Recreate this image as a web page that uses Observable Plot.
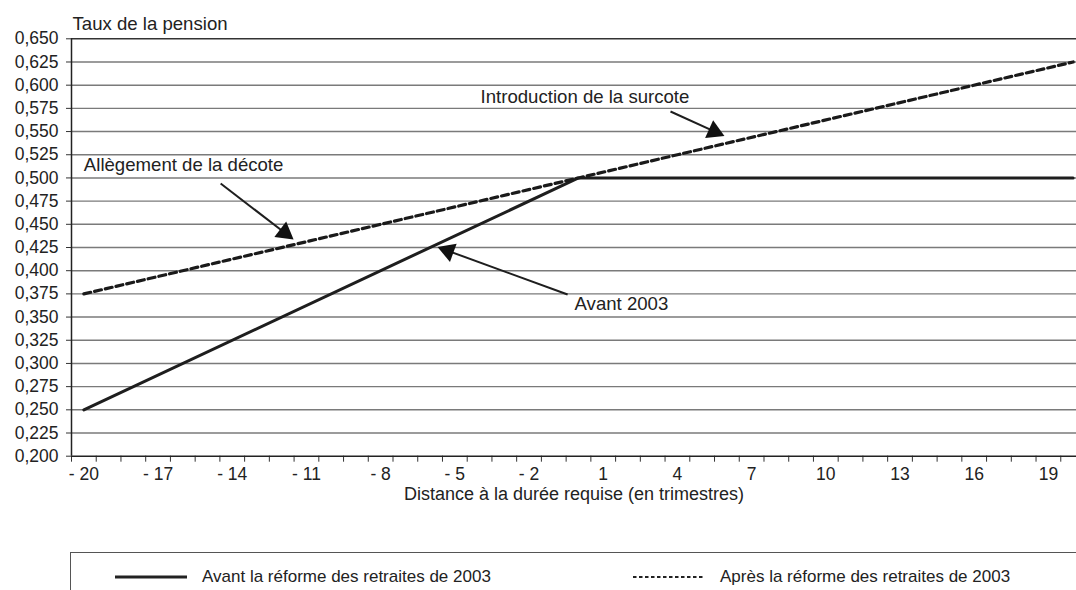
<!DOCTYPE html>
<html><head><meta charset="utf-8">
<script src="https://cdn.jsdelivr.net/npm/d3@7"></script>
<script src="https://cdn.jsdelivr.net/npm/@observablehq/plot@0.6"></script>
<style>
html,body{margin:0;padding:0;background:#fff;}
body{width:1076px;height:590px;overflow:hidden;font-family:"Liberation Sans",Arial,Helvetica,sans-serif;color:#222;}
#chart svg{display:block;}
#legend{position:relative;margin-top:12px;margin-left:70px;height:60px;border-top:1.5px solid #555;border-left:1.5px solid #555;}
.item{position:absolute;top:14px;height:20px;display:flex;align-items:center;font-size:17px;white-space:nowrap;}
.item svg{margin-right:15px;}
</style>
</head><body>
<div id="chart"></div>
<div id="legend">
  <div class="item" style="left:44px"><svg width="72" height="6"><line x1="0" y1="3" x2="72" y2="3" stroke="#222" stroke-width="3"/></svg><span id="lg1"></span></div>
  <div class="item" style="left:562px"><svg width="72" height="6"><line x1="0" y1="3" x2="72" y2="3" stroke="#222" stroke-width="2.2" stroke-dasharray="3.5,2.5"/></svg><span id="lg2"></span></div>
</div>
<script>
// ---- data ----
const quartersBefore = [-20, 0, 20];
const ratesBefore = [0.250, 0.500, 0.500];
const quartersAfter = [-20, 0, 20];
const ratesAfter = [0.375, 0.500, 0.625];
const yTicks = [0.200,0.225,0.250,0.275,0.300,0.325,0.350,0.375,0.400,0.425,0.450,0.475,0.500,0.525,0.550,0.575,0.600,0.625,0.650];
const xLabels = [-20,-17,-14,-11,-8,-5,-2,1,4,7,10,13,16,19];
const seriesNames = ["Avant la réforme des retraites de 2003", "Après la réforme des retraites de 2003"];
const yTitle = "Taux de la pension";
const xTitle = "Distance à la durée requise (en trimestres)";
const notes = [
  {text: "Allègement de la décote", x: -20.0, y: 0.5134, ax1: -14.47, ay1: 0.494, ax2: -11.52, ay2: 0.4336},
  {text: "Introduction de la surcote", x: -3.96, y: 0.5867, ax1: 3.72, ay1: 0.5716, ax2: 5.9, ay2: 0.5452},
  {text: "Avant 2003", x: -0.16, y: 0.3635, ax1: -0.44, ay1: 0.3743, ax2: -5.7, ay2: 0.4255}
];

document.getElementById("lg1").textContent = seriesNames[0];
document.getElementById("lg2").textContent = seriesNames[1];

const before = quartersBefore.map((q, i) => ({q, v: ratesBefore[i]}));
const after = quartersAfter.map((q, i) => ({q, v: ratesAfter[i]}));
const bounds = d3.range(-20.5, 21, 1);
const xDomain = [-20.5, 20.5], xRange = [71, 1085];
const yDomain = [0.2, 0.65], yRange = [455.7, 38.3];
const xs = d3.scaleLinear(xDomain, xRange), ys = d3.scaleLinear(yDomain, yRange);

// arrow heads (filled triangles)
const r = 7.2, tipOff = 1.555 * r;
const links = [], heads = [];
for (const n of notes) {
  const px1 = xs(n.ax1), py1 = ys(n.ay1), px2 = xs(n.ax2), py2 = ys(n.ay2);
  const dx = px2 - px1, dy = py2 - py1, L = Math.hypot(dx, dy);
  const ux = dx / L, uy = dy / L;
  const cx = px2 - ux * tipOff, cy = py2 - uy * tipOff;
  links.push({x1: n.ax1, y1: n.ay1, x2: xs.invert(cx), y2: ys.invert(cy)});
  heads.push({x: xs.invert(cx), y: ys.invert(cy), angle: Math.atan2(dx, -dy) * 180 / Math.PI});
}

const fmtY = d => d3.format(".3f")(d).replace(".", ",");
const fmtX = d => d < 0 ? "- " + Math.abs(d) : String(d);

const plot = Plot.plot({
  width: 1076,
  height: 540,
  marginTop: 38.3,
  marginLeft: 71,
  marginRight: 0,
  marginBottom: 84.3,
  style: {fontSize: "17.5px", fontFamily: "'Liberation Sans', Arial, Helvetica, sans-serif", color: "#222", background: "#fff"},
  x: {type: "linear", domain: xDomain, range: xRange, label: null},
  y: {domain: yDomain, range: yRange, label: null},
  marks: [
    Plot.ruleY(yTicks.filter(d => d > 0.2 && d < 0.65), {x1: -20.5, x2: 20.5, stroke: "#7a7a7a", strokeWidth: 1.4}),
    Plot.ruleY([0.65], {x1: -20.5, x2: 20.5, stroke: "#333", strokeWidth: 1.4}),
    Plot.axisY(yTicks, {tickSize: 5, tickPadding: 8, tickFormat: fmtY, stroke: "#333", fill: "#222"}),
    Plot.axisX(bounds, {tickSize: 6, tickFormat: () => "", stroke: "#333"}),
    Plot.axisX(xLabels, {tickSize: 0, tickPadding: 11, tickFormat: fmtX, fill: "#222"}),
    Plot.ruleX([-20.5], {stroke: "#222", strokeWidth: 1.5}),
    Plot.ruleY([0.2], {x1: -20.5, x2: 20.5, stroke: "#222", strokeWidth: 1.5}),
    Plot.line(before, {x: "q", y: "v", stroke: "#1e1e1e", strokeWidth: 3}),
    Plot.line(after, {x: "q", y: "v", stroke: "#1a1a1a", strokeWidth: 3.2, strokeDasharray: "7,4"}),
    Plot.link(links, {x1: "x1", y1: "y1", x2: "x2", y2: "y2", stroke: "#1e1e1e", strokeWidth: 2}),
    Plot.dot(heads, {x: "x", y: "y", symbol: "triangle", r, fill: "#111", stroke: "none", rotate: "angle"}),
    Plot.text(notes, {x: "x", y: "y", text: "text", textAnchor: "start", lineAnchor: "middle", fill: "#222", fontSize: 18.6}),
    Plot.text([yTitle], {frameAnchor: "top-left", dx: 1, dy: -15, textAnchor: "start", lineAnchor: "middle", fill: "#222", fontSize: 18.6}),
    Plot.text([xTitle], {frameAnchor: "bottom", dy: 38, lineAnchor: "middle", fill: "#222", fontSize: 18})
  ]
});
document.getElementById("chart").appendChild(plot);
</script>
</body></html>
